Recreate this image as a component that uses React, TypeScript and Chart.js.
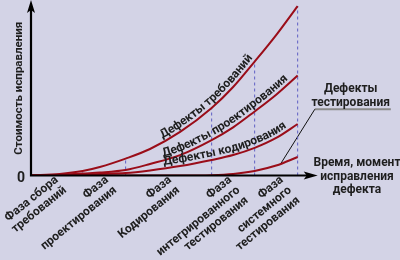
import React, { useEffect, useRef } from "react";
import { Chart, registerables } from "chart.js";

Chart.register(...registerables);

// ---- data (time in phase units, cost in relative units) ----
const timeGrid = [0, 10, 18, 24, 33, 41.5, 52, 63, 70.5, 78, 85.5, 93];
const requirementsCost = [0, 0.9, 2.6, 4.9, 9.7, 15.2, 25, 38.7, 50.7, 65.3, 80.5, 97.1];
const designCost = [0, 0.3, 1.15, 1.7, 3.15, 6.6, 11.7, 20.3, 27.6, 36.7, 46.3, 57.3];
const codingCost = [0, 0.1, 0.6, 0.9, 1.4, 2.9, 5.4, 8.9, 11.7, 15.8, 21.5, 29.5];
const testingCost = [0, 0, 0, 0, 0, 0, 0, 0.2, 0.9, 2.6, 5.7, 10.6];

const phaseBounds = [18, 33, 63, 78, 93];
const phaseTickPos = [9, 26.5, 48.5, 69.5, 87.5];
const phaseLabels = [
  ["Фаза сбора", "требований"],
  ["Фаза", "проектирования"],
  ["Фаза", "Кодирования"],
  ["Фаза", "интегрированного", "тестирования"],
  ["Фаза", "системного", "тестирования"],
];

const curveLabels = ["Дефекты требований", "Дефекты проектирования", "Дефекты кодирования"];
const curveLabelStartX = [46.5, 46.5, 46.5];

const testingLabel = ["Дефекты", "тестирования"];
const testingLabelPos = { x: 111.5, y: 49.5 };
const leaderX = [87, 99, 125.5];
const leaderY = [6.5, 38, 38];

const xTitle = ["Время, момент", "исправления", "дефекта"];
const xTitlePosX = 113.7;
const yTitle = "Стоимость исправления";
const axisEnd = 100;

// ---- styles ----
const BG = "#d3d3e6";
const RED = "#9a0d19";
const BLUE = "#5f5fc4";
const TEXT = "#1e1e1e";
const FONT = "Roboto, 'Noto Sans', sans-serif";
const W = "bold";

function densePath(meta: any) {
  const els = meta.data as any[];
  const out: { x: number; y: number }[] = [];
  for (let i = 0; i < els.length - 1; i++) {
    const a = els[i];
    const b = els[i + 1];
    const c1x = a.cp2x ?? a.x, c1y = a.cp2y ?? a.y;
    const c2x = b.cp1x ?? b.x, c2y = b.cp1y ?? b.y;
    for (let k = 0; k < 24; k++) {
      const t = k / 24, u = 1 - t;
      out.push({
        x: u * u * u * a.x + 3 * u * u * t * c1x + 3 * u * t * t * c2x + t * t * t * b.x,
        y: u * u * u * a.y + 3 * u * u * t * c1y + 3 * u * t * t * c2y + t * t * t * b.y,
      });
    }
  }
  const l = els[els.length - 1];
  out.push({ x: l.x, y: l.y });
  return out;
}

function drawTextOnPath(ctx: CanvasRenderingContext2D, pts: { x: number; y: number }[], startPx: number, offset: number, text: string) {
  const cum: number[] = [0];
  for (let i = 1; i < pts.length; i++) {
    cum.push(cum[i - 1] + Math.hypot(pts[i].x - pts[i - 1].x, pts[i].y - pts[i - 1].y));
  }
  let s = 0;
  for (let i = 1; i < pts.length; i++) {
    if (pts[i].x >= startPx) {
      const f = (startPx - pts[i - 1].x) / (pts[i].x - pts[i - 1].x || 1);
      s = cum[i - 1] + f * (cum[i] - cum[i - 1]);
      break;
    }
  }
  const at = (d: number) => {
    let i = 1;
    while (i < cum.length - 1 && cum[i] < d) i++;
    const seg = cum[i] - cum[i - 1] || 1;
    const f = (d - cum[i - 1]) / seg;
    const p0 = pts[i - 1], p1 = pts[i];
    return { x: p0.x + (p1.x - p0.x) * f, y: p0.y + (p1.y - p0.y) * f, a: Math.atan2(p1.y - p0.y, p1.x - p0.x) };
  };
  ctx.textAlign = "center";
  ctx.textBaseline = "alphabetic";
  for (const ch of text) {
    const w = ctx.measureText(ch).width;
    const p = at(s + w / 2);
    const nx = Math.sin(p.a), ny = -Math.cos(p.a);
    ctx.save();
    ctx.translate(p.x + nx * offset, p.y + ny * offset);
    ctx.rotate(p.a);
    ctx.fillText(ch, 0, 0);
    ctx.restore();
    s += w;
  }
}

const overlay = {
  id: "overlay",
  beforeDraw(chart: any) {
    const ctx = chart.ctx;
    ctx.save();
    ctx.fillStyle = BG;
    ctx.fillRect(0, 0, chart.width, chart.height);
    ctx.restore();
  },
  afterDatasetsDraw(chart: any) {
    const ctx: CanvasRenderingContext2D = chart.ctx;
    const xs = chart.scales.x, ys = chart.scales.y;
    const x0 = xs.getPixelForValue(0), y0 = ys.getPixelForValue(0);
    const xe = xs.getPixelForValue(axisEnd), ye = ys.getPixelForValue(axisEnd) - 1;
    ctx.save();
    // axes
    ctx.strokeStyle = "#000";
    ctx.fillStyle = "#000";
    ctx.lineWidth = 2.2;
    ctx.beginPath();
    ctx.moveTo(x0, y0 + 1);
    ctx.lineTo(x0, ye + 9);
    ctx.moveTo(x0 - 1, y0);
    ctx.lineTo(xe - 9, y0);
    ctx.stroke();
    ctx.beginPath();
    ctx.moveTo(x0, ye);
    ctx.lineTo(x0 - 4, ye + 13);
    ctx.lineTo(x0, ye + 10);
    ctx.lineTo(x0 + 4, ye + 13);
    ctx.closePath();
    ctx.fill();
    ctx.beginPath();
    ctx.moveTo(xe, y0);
    ctx.lineTo(xe - 14, y0 - 4);
    ctx.lineTo(xe - 11, y0);
    ctx.lineTo(xe - 14, y0 + 4);
    ctx.closePath();
    ctx.fill();

    // curve labels
    ctx.fillStyle = TEXT;
    ctx.font = `${W} 12px ${FONT}`;
    curveLabels.forEach((t, i) => {
      const pts = densePath(chart.getDatasetMeta(i));
      drawTextOnPath(ctx, pts, xs.getPixelForValue(curveLabelStartX[i]), 3.5, t);
    });

    // testing label
    ctx.textAlign = "center";
    ctx.textBaseline = "middle";
    const tx = xs.getPixelForValue(testingLabelPos.x);
    const ty = ys.getPixelForValue(testingLabelPos.y);
    testingLabel.forEach((t, i) => ctx.fillText(t, tx, ty + i * 13.5));

    // x title
    const xx = xs.getPixelForValue(xTitlePosX);
    xTitle.forEach((t, i) => ctx.fillText(t, xx, y0 - 12.5 + i * 13.5));
    ctx.restore();
  },
};

export default function App() {
  const ref = useRef<HTMLCanvasElement>(null);
  useEffect(() => {
    const pt = (xArr: number[], yArr: number[]) => xArr.map((x, i) => ({ x, y: yArr[i] }));
    const curve = (vals: number[]) => ({
      data: pt(timeGrid, vals),
      borderColor: RED,
      borderWidth: 2,
      pointRadius: 0,
      cubicInterpolationMode: "monotone" as const,
      fill: false,
    });
    const chart = new Chart(ref.current!, {
      type: "line",
      data: {
        datasets: [
          curve(requirementsCost),
          curve(designCost),
          curve(codingCost),
          curve(testingCost),
          ...phaseBounds.map((b) => ({
            data: [
              { x: b, y: 0 },
              { x: b, y: requirementsCost[timeGrid.indexOf(b)] },
            ],
            borderColor: BLUE,
            borderWidth: 1,
            borderDash: [3, 3],
            pointRadius: 0,
          })),
          {
            data: pt(leaderX.slice(0, 2), leaderY.slice(0, 2)),
            borderColor: "#111",
            borderWidth: 1,
            pointRadius: 0,
          },
          {
            data: pt(leaderX.slice(1), leaderY.slice(1)),
            borderColor: "#8a8a8a",
            borderWidth: 2,
            pointRadius: 0,
          },
        ],
      },
      options: {
        animation: false,
        responsive: false,
        layout: { padding: { top: 1, left: 0, right: 2, bottom: 0 } },
        plugins: { legend: { display: false }, tooltip: { enabled: false } },
        scales: {
          x: {
            type: "linear",
            min: 0,
            max: 128,
            grid: { display: false, drawTicks: false },
            border: { display: false },
            afterBuildTicks: (ax: any) => {
              ax.ticks = phaseTickPos.map((v) => ({ value: v }));
            },
            afterFit: (ax: any) => {
              ax.height = 84.5;
              ax.paddingLeft = 0;
              ax.paddingRight = 0;
            },
            ticks: {
              autoSkip: false,
              minRotation: 39,
              maxRotation: 39,
              padding: -2,
              color: TEXT,
              font: { family: FONT, size: 12, weight: W, lineHeight: 1.1 },
              callback: (_v: any, i: number) => phaseLabels[i],
            },
          },
          y: {
            type: "linear",
            min: 0,
            max: 100,
            grid: { display: false, drawTicks: false },
            border: { display: false },
            afterBuildTicks: (ax: any) => {
              ax.ticks = [{ value: 0 }];
            },
            afterFit: (ax: any) => {
              ax.width = 31;
              ax.paddingTop = 0;
              ax.paddingBottom = 0;
            },
            ticks: {
              padding: 6,
              labelOffset: 3,
              color: TEXT,
              font: { family: FONT, size: 14, weight: W },
              callback: () => "0",
            },
            title: {
              display: true,
              text: yTitle,
              color: TEXT,
              font: { family: FONT, size: 11.5, weight: W },
              padding: { top: 12, bottom: 0 },
            },
          },
        },
      },
      plugins: [overlay],
    } as any);
    return () => chart.destroy();
  }, []);
  return (
    <div style={{ position: "fixed", left: 0, top: 0, width: 400, height: 260 }}>
      <canvas ref={ref} width={400} height={260} style={{ display: "block" }} />
    </div>
  );
}
